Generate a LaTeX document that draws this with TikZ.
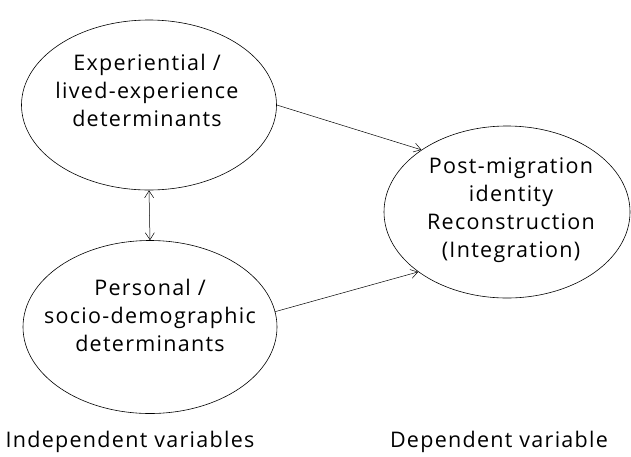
\documentclass[tikz,border=0pt]{standalone}
\usepackage{fontspec}
\setmainfont{Open Sans}[LetterSpace=6]
\usetikzlibrary{arrows.meta}
\usetikzlibrary{shapes.geometric}

\tikzset{
  var/.style={ellipse, draw, line width=0.6pt, inner sep=0pt},
  vartext/.style={align=center, font=\fontsize{21.5}{28}\selectfont},
  link/.style={line width=0.5pt, -{Straight Barb[length=7pt,width=9pt]}}
}

\begin{document}
\begin{tikzpicture}[x=1pt, y=-1pt]
  \useasboundingbox (0,0) rectangle (631,456);

  % the three variables
  \node[var, minimum width=255pt, minimum height=170pt] (exp) at (149,105) {};
  \node[var, minimum width=254pt, minimum height=173pt] (per) at (150,327) {};
  \node[var, minimum width=246pt, minimum height=172pt] (post) at (507,212) {};

  \node[vartext] (exptext) at (147,90) {Experiential /\\lived-experience\\determinants};
  \node[vartext] (pertext) at (150,315) {Personal /\\socio-demographic\\determinants};
  \node[vartext] (posttext) at (511,210) {Post-migration\\identity\\Reconstruction\\(Integration)};

  % captions
  \node[vartext] (indep) at (130,442) {Independent variables};
  \node[vartext] (dep) at (499,442) {Dependent variable};

  \draw[link] (exp.east) -- (post.144);
  \draw[link] (per.7) -- (post.214);
  \draw[link, {Straight Barb[length=7pt,width=9pt]}-{Straight Barb[length=7pt,width=9pt]}] (exp.south) -- (per.north);
\end{tikzpicture}
\end{document}
